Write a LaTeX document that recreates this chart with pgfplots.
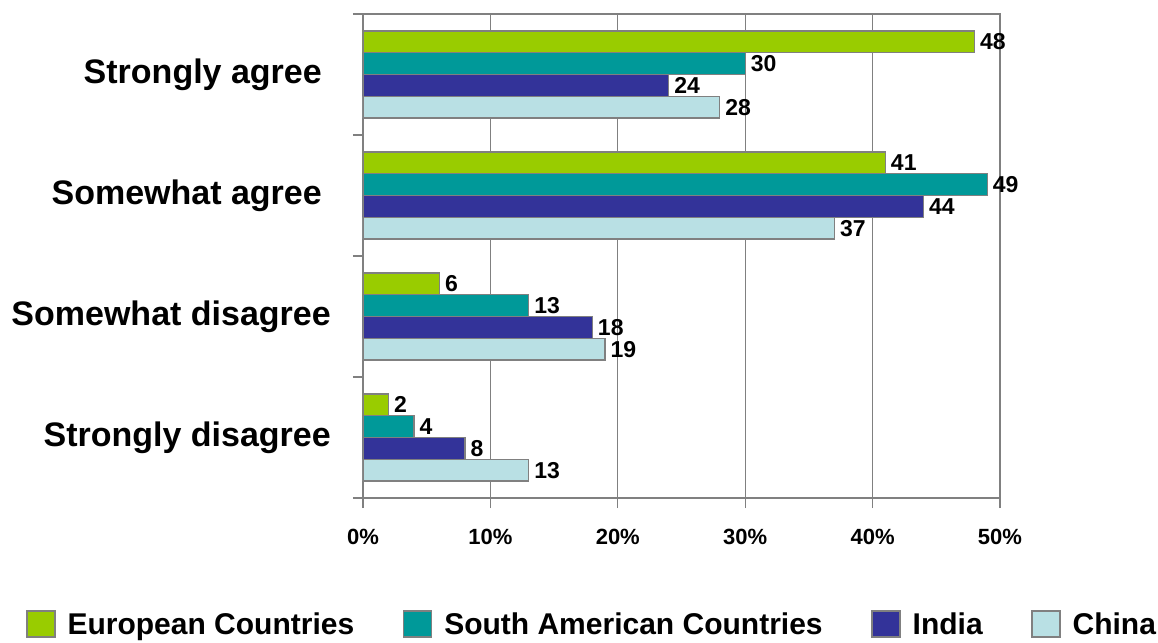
\documentclass[border=0pt]{standalone}
\usepackage{pgfplots}
\pgfplotsset{compat=1.18}
\usepackage{fontspec}
\setmainfont{Liberation Sans}
\definecolor{cEU}{HTML}{99CC00}
\definecolor{cSA}{HTML}{009999}
\definecolor{cIN}{HTML}{333399}
\definecolor{cCN}{HTML}{B9E0E4}
\definecolor{cGr}{HTML}{808080}
\begin{document}
\begin{tikzpicture}
\begin{axis}[
  at={(0,0)}, anchor=south west,
  scale only axis,
  width=637pt, height=484pt,
  xbar,
  bar width=0.18,
  xmin=0, xmax=50,
  ymin=-0.5, ymax=3.5,
  /pgf/number format/assume math mode=true,
  axis line style={cGr, line width=1.3pt},
  xtick={0,10,20,30,40,50},
  xtick pos=bottom,
  ytick pos=left,
  xticklabel={\pgfmathprintnumber{\tick}\%},
  xticklabel style={font=\fontsize{22}{26}\selectfont\bfseries, yshift=-18pt},
  xmajorgrids,
  grid style={cGr, line width=1.3pt},
  tick align=outside,
  tick style={cGr, line width=1.3pt},
  major tick length=10pt,
  ytick={-0.5,0.5,1.5,2.5,3.5},
  yticklabels={},
  extra y ticks={0,1,2,3},
  extra y tick labels={Strongly disagree, Somewhat disagree, {Somewhat agree\kern9pt}, {Strongly agree\kern9pt}},
  extra y tick style={major tick length=0pt, tick style={draw=none},
     yticklabel style={font=\fontsize{34}{40}\selectfont\bfseries, anchor=east, inner sep=0pt, xshift=-32pt}},
  nodes near coords,
  every node near coord/.append style={font=\fontsize{23}{27}\selectfont\bfseries, anchor=west, inner xsep=0pt, xshift=5pt, black},
  legend columns=4,
  legend style={at={(0.358,-0.2603)}, anchor=center, draw=none,
    font=\fontsize{30}{34}\selectfont\bfseries,
    nodes={inner xsep=0pt},
    /tikz/every odd column/.append style={column sep=12pt},
    /tikz/every even column/.append style={column sep=48.5pt}},
  legend image code/.code={\draw[#1,draw=cGr,line width=1.5pt] (0pt,-13pt) rectangle (28pt,13pt);},
]
\addplot[fill=cEU, draw=cGr, line width=1.3pt, bar shift=0.27] coordinates {(48,3) (41,2) (6,1) (2,0)};
\addplot[fill=cSA, draw=cGr, line width=1.3pt, bar shift=0.09] coordinates {(30,3) (49,2) (13,1) (4,0)};
\addplot[fill=cIN, draw=cGr, line width=1.3pt, bar shift=-0.09] coordinates {(24,3) (44,2) (18,1) (8,0)};
\addplot[fill=cCN, draw=cGr, line width=1.3pt, bar shift=-0.27] coordinates {(28,3) (37,2) (19,1) (13,0)};
\legend{European Countries, South American Countries, India, China}
\end{axis}
\pgfresetboundingbox
\path (-363pt,-144pt) rectangle (795pt,498pt);
\end{tikzpicture}
\end{document}
